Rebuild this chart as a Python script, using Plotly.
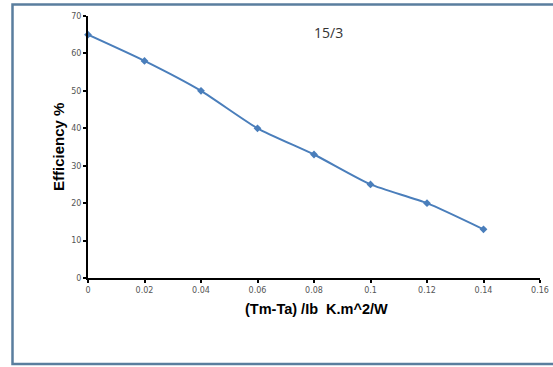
import plotly.graph_objects as go

x_vals = [0, 0.02, 0.04, 0.06, 0.08, 0.10, 0.12, 0.14]
efficiency = [65, 58, 50, 40, 33, 25, 20, 13]
x_ticks = [0, 0.02, 0.04, 0.06, 0.08, 0.1, 0.12, 0.14, 0.16]
x_tick_labels = ["0", "0.02", "0.04", "0.06", "0.08", "0.1", "0.12", "0.14", "0.16"]
y_ticks = [0, 10, 20, 30, 40, 50, 60, 70]

W, H = 553, 367
L, R, T, B = 88, 13, 16, 89
pw, ph = W - L - R, H - T - B

def px(xp):
    return (xp - L) / pw

def py(yp):
    return 1 - (yp - T) / ph

fig = go.Figure()
fig.add_trace(go.Scatter(
    x=x_vals, y=efficiency, mode="lines+markers",
    line=dict(color="#4a7ebb", width=2, shape="spline", smoothing=0.6),
    marker=dict(symbol="diamond", size=6, color="#4a7ebb"),
    showlegend=False, cliponaxis=False,
))

fig.update_layout(
    width=W, height=H,
    margin=dict(l=L, r=R, t=T, b=B, autoexpand=False),
    paper_bgcolor="white", plot_bgcolor="white",
    xaxis=dict(range=[0, 0.16], tickvals=x_ticks, ticktext=x_tick_labels, automargin=False,
               showgrid=False, zeroline=False, showline=True, linecolor="black", linewidth=2,
               ticks="outside", ticklen=3, tickwidth=2, tickcolor="black",
               tickfont=dict(family="DejaVu Sans", size=8, color="#555555")),
    yaxis=dict(range=[0, 70], tickvals=y_ticks, automargin=False,
               showgrid=False, zeroline=False, showline=True, linecolor="black", linewidth=2,
               ticks="outside", ticklen=3, tickwidth=2, tickcolor="black",
               tickfont=dict(family="DejaVu Sans", size=8, color="#555555")),
    shapes=[dict(type="rect", xref="paper", yref="paper",
                 x0=px(12.5), x1=px(560), y0=py(364), y1=py(4.5),
                 line=dict(color="#5a7e9e", width=2.5), layer="below")],
    annotations=[
        dict(text="15/3", xref="paper", yref="paper", x=px(328), y=py(32),
             xanchor="center", yanchor="middle",
             showarrow=False, font=dict(family="Open Sans", size=14, color="#333333")),
        dict(text="<b>Efficiency %</b>", xref="paper", yref="paper", x=px(58), y=py(147),
             xanchor="center", yanchor="middle",
             textangle=-90, showarrow=False,
             font=dict(family="Liberation Sans", size=15, color="black")),
        dict(text="<b>(Tm-Ta) /Ib  K.m^2/W</b>", xref="paper", yref="paper", x=px(316), y=py(309),
             xanchor="center", yanchor="middle",
             showarrow=False,
             font=dict(family="Liberation Sans", size=14.5, color="black")),
    ],
)

fig.write_html("out.html")
